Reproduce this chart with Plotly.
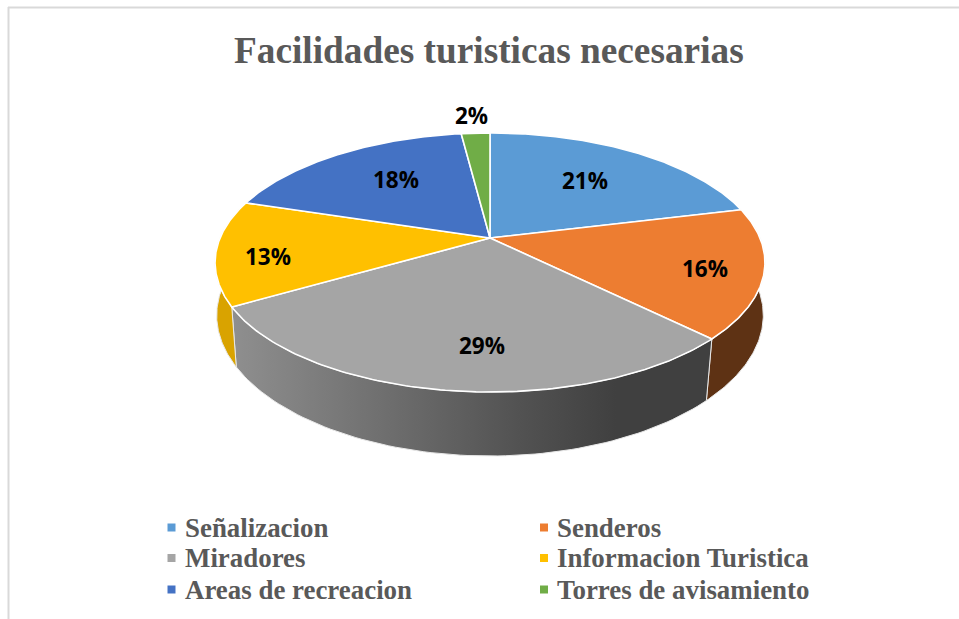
import numpy as np
import plotly.graph_objects as go

categories = ["Señalizacion", "Senderos", "Miradores", "Informacion Turistica", "Areas de recreacion", "Torres de avisamiento"]
values = [21, 16, 29, 13, 18, 2]
colors = ["#5B9BD5", "#ED7D31", "#A5A5A5", "#FFC000", "#4472C4", "#70AD47"]
title = "Facilidades turisticas necesarias"

# projection of the tilted disc, in page pixels
CX, CY, F, G, K = 490, 238, 270, 124.9, 0.189


def top_xy(theta, r=1.0):
    X, Z = np.sin(theta) * r, np.cos(theta) * r
    d = 1 + K * Z
    return CX + F * X / d, CY - G * Z / d


def bottom_xy(theta):
    x, y = top_xy(theta)
    scale = 1 + 0.035 * np.cos(theta)
    return CX + scale * (x - CX), y + 56 - 8 * np.cos(theta)


total = sum(values)
edges = 2 * np.pi * np.cumsum([0] + values) / total
fig = go.Figure()

# side walls: only the part of each slice facing the viewer
walls = [(1, "#5E3214", None), (2, None, [[0, "#8F8F8F"], [0.6, "#525252"], [0.8, "#404040"], [1, "#404040"]]), (3, "#D9A300", None)]
VIS0, VIS1 = np.radians(80), np.radians(285)
for i, col, grad in walls:
    a0, a1 = max(edges[i], VIS0), min(edges[i + 1], VIS1)
    t = np.linspace(a0, a1, 80)
    x0, y0 = top_xy(t)
    x1, y1 = bottom_xy(t[::-1])
    kw = dict(fillgradient=dict(type="horizontal", colorscale=grad)) if grad else dict(fillcolor=col)
    fig.add_trace(go.Scatter(x=np.r_[x0, x1, x0[0]], y=np.r_[y0, y1, y0[0]], mode="lines", fill="toself",
                             line=dict(color="#E8E8E8", width=1), name=categories[i] + " (lado)",
                             showlegend=False, hoverinfo="skip", **kw))

# top faces
for i, (name, v, c) in enumerate(zip(categories, values, colors)):
    t = np.linspace(edges[i], edges[i + 1], 120)
    x, y = top_xy(t)
    fig.add_trace(go.Scatter(x=np.r_[CX, x, CX], y=np.r_[CY, y, CY], mode="lines", fill="toself",
                             fillcolor=c, line=dict(color="white", width=1.6), name=name,
                             showlegend=False, text=f"{name}: {v}%", hoverinfo="text"))

annotations = []
# data labels
label_pos = [(585, 180), (705, 268), (482, 345), (268, 256), (396, 179), (471, 115)]
for v, (lx, ly) in zip(values, label_pos):
    annotations.append(dict(x=lx, y=ly, text=f"<b>{v}%</b>", showarrow=False, xref="x", yref="y",
                            font=dict(family="Open Sans", size=22.5, color="black")))
# legend
legend_cols = [171.5, 544]
legend_rows = [527.5, 558, 589.5]
for i, (name, c) in enumerate(zip(categories, colors)):
    lx, ly = legend_cols[i % 2], legend_rows[i // 2]
    fig.add_trace(go.Scatter(x=[lx], y=[ly], mode="markers", marker=dict(symbol="square", size=8, color=c),
                             showlegend=False, hoverinfo="skip", name=name))
    annotations.append(dict(x=lx + 11, y=ly, text=f"<b>{name}</b>", showarrow=False, xanchor="left", xref="x", yref="y",
                            font=dict(family="Liberation Serif", size=26.9, color="#595959")))
annotations.append(dict(x=489, y=50, text=f"<b>{title}</b>", showarrow=False, xref="x", yref="y",
                        font=dict(family="Liberation Serif", size=37.3, color="#595959")))

shapes = [dict(type="line", x0=8.5, x1=8.5, y0=7, y1=619, xref="x", yref="y", line=dict(color="#D9D9D9", width=2)),
          dict(type="line", x0=8, x1=959, y0=7.5, y1=7.5, xref="x", yref="y", line=dict(color="#D9D9D9", width=2))]

fig.update_layout(width=959, height=619, margin=dict(l=0, r=0, t=0, b=0), paper_bgcolor="white", plot_bgcolor="white",
                  xaxis=dict(range=[0, 959], visible=False, fixedrange=True),
                  yaxis=dict(range=[619, 0], visible=False, fixedrange=True),
                  annotations=annotations, shapes=shapes, showlegend=False)
fig.write_html("out.html", config={"displayModeBar": False},
               post_script="document.body.style.margin='0';document.body.style.overflow='hidden';")
